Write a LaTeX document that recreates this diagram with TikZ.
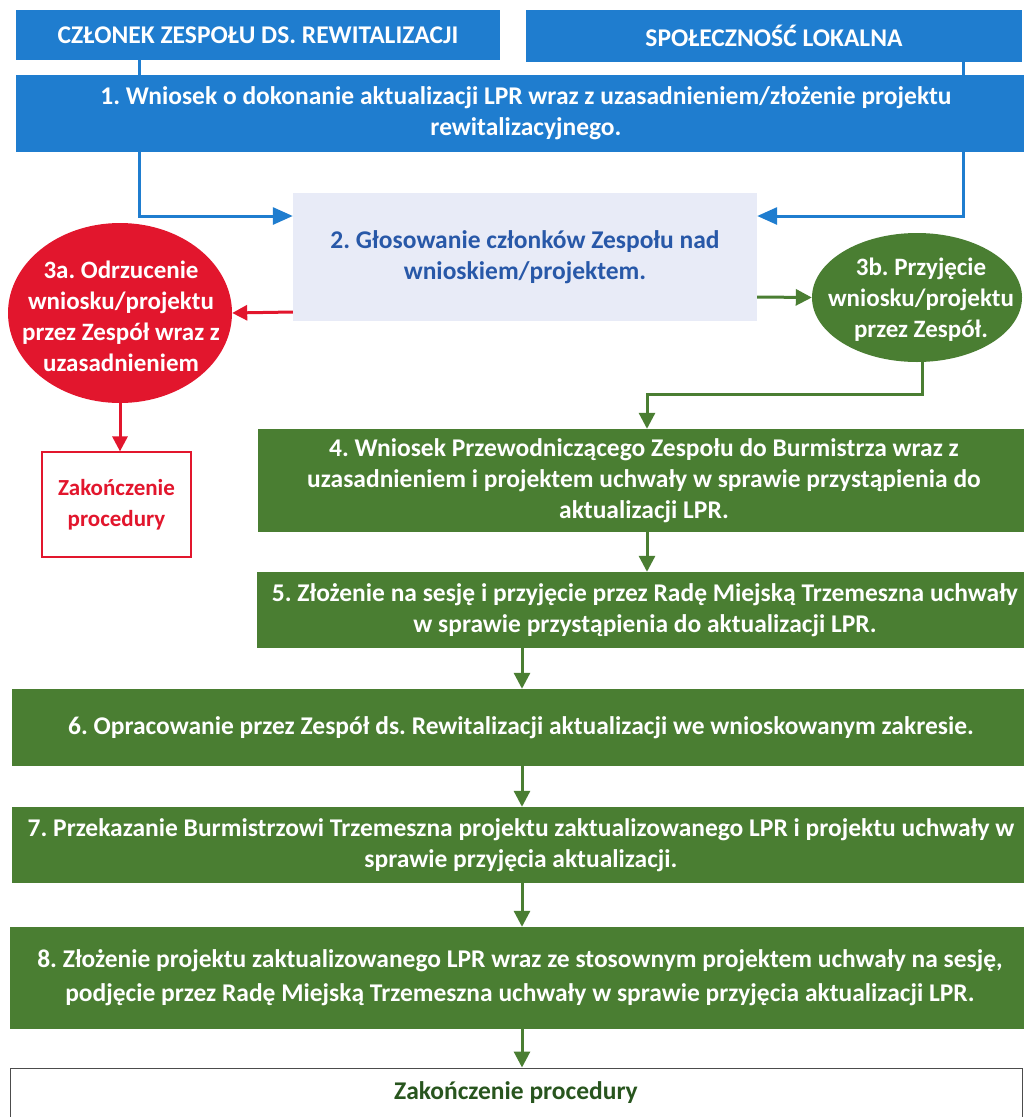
\documentclass[tikz,border=0pt]{standalone}
\usepackage{fontspec}
\setmainfont{Carlito}
\usetikzlibrary{arrows.meta,shapes.geometric}
\definecolor{hblue}{RGB}{31,125,207}
\definecolor{lav}{RGB}{232,235,247}
\definecolor{txtblue}{RGB}{40,88,168}
\definecolor{rred}{RGB}{226,22,45}
\definecolor{ggreen}{RGB}{74,126,50}
\definecolor{dgreen}{RGB}{40,85,30}
\frenchspacing
\begin{document}
\begin{tikzpicture}[x=1pt,y=-1pt,
  font=\frenchspacing\bfseries\fontsize{25.5}{31}\selectfont,
  bluebox/.style={rectangle, fill=hblue, text=white, inner sep=0pt, align=center},
  greenbox/.style={rectangle, fill=ggreen, text=white, inner sep=0pt, align=center},
  ellshape/.style={ellipse, inner sep=0pt},
  elltext/.style={text=white, inner sep=0pt, align=center, font=\bfseries\fontsize{25}{31}\selectfont},
  blueline/.style={draw=hblue, line width=3pt},
  bluearrow/.style={draw=hblue, line width=3pt, -{Triangle[width=17pt,length=20pt]}},
  redarrow/.style={draw=rred, line width=3pt, -{Triangle[width=15pt,length=15pt]}},
  greenarrow/.style={draw=ggreen, line width=3pt, -{Triangle[width=16pt,length=16pt]}}
]
\useasboundingbox (0,0) rectangle (1024,1117);
\clip (0,0) rectangle (1024,1117);

% headers
\node[bluebox, minimum width=484pt, minimum height=50pt] (h1) at (258,35) {CZŁONEK ZESPOŁU DS. REWITALIZACJI};
\node[bluebox, minimum width=496pt, minimum height=52pt] (h2) at (774,36) {SPOŁECZNOŚĆ LOKALNA};

% box 1
\node[bluebox, minimum width=1020pt, minimum height=77pt] (b1) at (526,113.5) {1. Wniosek o dokonanie aktualizacji LPR wraz z uzasadnieniem/złożenie projektu\\rewitalizacyjnego.};

% box 2
\node[rectangle, fill=lav, text=txtblue, inner sep=0pt, align=center, minimum width=464pt, minimum height=128pt] (b2) at (525,257) {2. Głosowanie członków Zespołu nad\\wnioskiem/projektem.};

% ellipse 3a
\node[ellshape, fill=rred, minimum width=224pt, minimum height=180pt] (e3a) at (120,313) {};
\node[elltext] (t3a) at (121,316) {3a. Odrzucenie\\wniosku/projektu\\przez Zespół wraz z\\uzasadnieniem};

% end box red
\node[rectangle, draw=rred, line width=1.2pt, fill=white, text=rred, inner sep=0pt, align=center, minimum width=149pt, minimum height=105pt, font=\bfseries\fontsize{23}{31}\selectfont] (rbox) at (116.5,504.5) {Zakończenie\\procedury};

% ellipse 3b
\node[ellshape, fill=ggreen, minimum width=210pt, minimum height=129pt] (e3b) at (917,297.5) {};
\node[elltext] (t3b) at (921,300) {3b. Przyjęcie\\wniosku/projektu\\przez Zespół.};

% green boxes
\node[greenbox, minimum width=772pt, minimum height=103pt] (b4) at (644,480.5) {4. Wniosek Przewodniczącego Zespołu do Burmistrza wraz z\\uzasadnieniem i projektem uchwały w sprawie przystąpienia do\\aktualizacji LPR.};
\node[greenbox, minimum width=776pt, minimum height=76pt] (b5) at (645,610) {5. Złożenie na sesję i przyjęcie przez Radę Miejską Trzemeszna uchwały\\w sprawie przystąpienia do aktualizacji LPR.};
\node[greenbox, minimum width=1018pt, minimum height=77pt] (b6) at (521,727.5) {6. Opracowanie przez Zespół ds. Rewitalizacji aktualizacji we wnioskowanym zakresie.};
\node[greenbox, minimum width=1018pt, minimum height=76pt] (b7) at (521,845) {7. Przekazanie Burmistrzowi Trzemeszna projektu zaktualizowanego LPR i projektu uchwały w\\sprawie przyjęcia aktualizacji.};
\node[greenbox, minimum width=1020pt, minimum height=102pt, font=\bfseries\fontsize{25.5}{34}\selectfont] (b8) at (520,978) {8. Złożenie projektu zaktualizowanego LPR wraz ze stosownym projektem uchwały na sesję,\\podjęcie przez Radę Miejską Trzemeszna uchwały w sprawie przyjęcia aktualizacji LPR.};

% final
\node[rectangle, draw=black!70, line width=1pt, fill=white, text=dgreen, inner sep=0pt, minimum width=1012pt, minimum height=50pt] (fin) at (516,1093) {Zakończenie procedury};

% helper coordinates
\coordinate (xl) at (139,0);
\coordinate (xr) at (963,0);
\coordinate (yb) at (0,216);
\coordinate (yr) at (0,312);
\coordinate (yg) at (0,297);
\coordinate (yg2) at (0,394);
\coordinate (xg) at (647,0);
\coordinate (xm) at (522,0);

% connectors
\draw[blueline] (xl |- h1.south) -- (xl |- b1.north);
\draw[blueline] (xr |- h2.south) -- (xr |- b1.north);
\draw[bluearrow] (xl |- b1.south) |- (b2.west |- yb);
\draw[bluearrow] (xr |- b1.south) |- (b2.east |- yb);
\draw[redarrow] (b2.west |- yr) -- (e3a.east);
\draw[redarrow] (e3a.south) -- (e3a.south |- rbox.north);
\draw[greenarrow] (b2.east |- yg) -- (e3b.west);
\draw[greenarrow] (e3b.-85) |- (xg |- yg2) -- (xg |- b4.north);
\draw[greenarrow] (xg |- b4.south) -- (xg |- b5.north);
\draw[greenarrow] (xm |- b5.south) -- (xm |- b6.north);
\draw[greenarrow] (xm |- b6.south) -- (xm |- b7.north);
\draw[greenarrow] (xm |- b7.south) -- (xm |- b8.north);
\draw[greenarrow] (xm |- b8.south) -- (xm |- fin.north);
\end{tikzpicture}
\end{document}
